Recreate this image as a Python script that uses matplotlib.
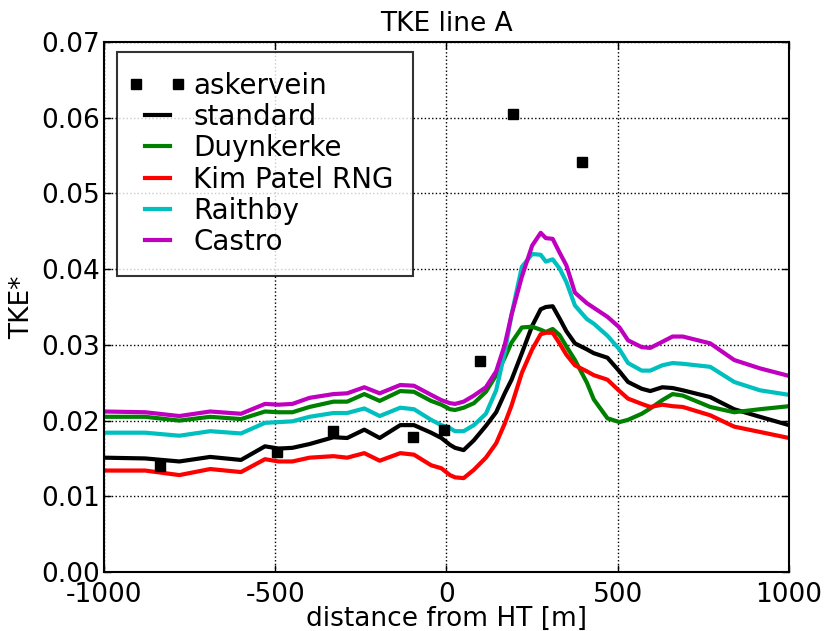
import matplotlib
matplotlib.use("Agg")
import matplotlib.pyplot as plt
from matplotlib.legend_handler import HandlerLine2D
import numpy as np

# distance from HT [m]
x = [-1000, -880, -780, -690, -600, -530, -490, -450, -400, -330, -290, -240,
     -195, -135, -95, -45, -15, 10, 25, 50, 80, 115, 145, 170, 190, 220, 250,
     275, 290, 310, 330, 350, 375, 410, 430, 470, 505, 530, 570, 595, 630,
     660, 690, 770, 840, 915, 1000]

standard = [0.0151, 0.0150, 0.0146, 0.0152, 0.0148, 0.0166, 0.0163, 0.0164,
            0.0169, 0.0178, 0.0177, 0.0188, 0.0177, 0.0194, 0.0194, 0.0184,
            0.0177, 0.0168, 0.0164, 0.0161, 0.0174, 0.0193, 0.0211, 0.0236,
            0.0254, 0.0289, 0.0325, 0.0347, 0.0350, 0.0351, 0.0335, 0.0318,
            0.0302, 0.0294, 0.0289, 0.0283, 0.0265, 0.0251, 0.0242, 0.0239,
            0.0244, 0.0243, 0.0240, 0.0231, 0.0215, 0.0205, 0.0194]

duynkerke = [0.0205, 0.0205, 0.0200, 0.0205, 0.0202, 0.0212, 0.0211, 0.0211,
             0.0218, 0.0225, 0.0225, 0.0235, 0.0226, 0.0239, 0.0238, 0.0226,
             0.0221, 0.0215, 0.0214, 0.0217, 0.0223, 0.0238, 0.0260, 0.0283,
             0.0303, 0.0323, 0.0324, 0.0320, 0.0317, 0.0321, 0.0313, 0.0298,
             0.0280, 0.0250, 0.0228, 0.0203, 0.0198, 0.0201, 0.0209, 0.0216,
             0.0227, 0.0235, 0.0233, 0.0218, 0.0211, 0.0215, 0.0219]

kim_patel = [0.0134, 0.0134, 0.0128, 0.0136, 0.0132, 0.0149, 0.0146, 0.0146,
             0.0151, 0.0153, 0.0151, 0.0157, 0.0147, 0.0157, 0.0155, 0.0141,
             0.0137, 0.0128, 0.0125, 0.0124, 0.0135, 0.0151, 0.0170, 0.0196,
             0.0220, 0.0263, 0.0294, 0.0314, 0.0316, 0.0316, 0.0302, 0.0287,
             0.0273, 0.0265, 0.0260, 0.0254, 0.0239, 0.0229, 0.0222, 0.0218,
             0.0221, 0.0219, 0.0218, 0.0207, 0.0192, 0.0185, 0.0177]

raithby = [0.0184, 0.0184, 0.0180, 0.0186, 0.0183, 0.0197, 0.0198, 0.0199,
           0.0205, 0.0210, 0.0210, 0.0216, 0.0206, 0.0217, 0.0215, 0.0201,
           0.0194, 0.0190, 0.0186, 0.0186, 0.0194, 0.0209, 0.0240, 0.0290,
           0.0340, 0.0403, 0.0420, 0.0419, 0.0410, 0.0413, 0.0401, 0.0383,
           0.0352, 0.0334, 0.0328, 0.0312, 0.0294, 0.0276, 0.0266, 0.0266,
           0.0273, 0.0276, 0.0275, 0.0271, 0.0251, 0.0240, 0.0234]

castro = [0.0212, 0.0211, 0.0206, 0.0212, 0.0209, 0.0222, 0.0221, 0.0222,
          0.0230, 0.0235, 0.0236, 0.0244, 0.0236, 0.0247, 0.0246, 0.0234,
          0.0227, 0.0223, 0.0222, 0.0225, 0.0233, 0.0244, 0.0265, 0.0300,
          0.0340, 0.0390, 0.0431, 0.0448, 0.0441, 0.0440, 0.0422, 0.0405,
          0.0369, 0.0355, 0.0349, 0.0337, 0.0323, 0.0306, 0.0297, 0.0296,
          0.0304, 0.0311, 0.0311, 0.0302, 0.0280, 0.0269, 0.0259]

# measurements
ask_x = [-836, -495, -331, -98, -7, 98, 194, 396]
ask_y = [0.0140, 0.0158, 0.0186, 0.0178, 0.0188, 0.0279, 0.0605, 0.0542]

fs = 19
plt.rcParams['font.family'] = 'DejaVu Sans'
plt.rcParams['font.size'] = fs
plt.rcParams['axes.unicode_minus'] = False

fig = plt.figure(figsize=(8.28, 6.31), dpi=100)
fig.patch.set_facecolor('white')
ax = fig.add_axes([0.1256, 0.0935, 0.8273, 0.8399])

ask, = ax.plot(ask_x, ask_y, 's', color='k', markersize=7.5, label='askervein', zorder=5)
ax.plot(x, standard, '-', color='k', lw=3, label='standard')
ax.plot(x, duynkerke, '-', color='green', lw=3, label='Duynkerke')
ax.plot(x, kim_patel, '-', color='red', lw=3, label='Kim Patel RNG')
ax.plot(x, raithby, '-', color='c', lw=3, label='Raithby')
ax.plot(x, castro, '-', color='m', lw=3, label='Castro')

ax.set_xlim(-1000, 1000)
ax.set_ylim(0, 0.07)
ax.set_xticks([-1000, -500, 0, 500, 1000])
ax.set_yticks(np.arange(0, 0.071, 0.01))
ax.set_yticklabels(['0.00', '0.01', '0.02', '0.03', '0.04', '0.05', '0.06', '0.07'])
ax.grid(True, color='k', linestyle=':', linewidth=1)
ax.tick_params(direction='in', top=True, right=True, length=5, width=1)
ax.tick_params(axis='x', pad=7)
ax.tick_params(axis='y', pad=3)
for s in ax.spines.values():
    s.set_linewidth(1.5)

ax.set_title('TKE line A', fontsize=fs, pad=8)
ax.set_xlabel('distance from HT [m]', fontsize=fs, labelpad=-1)
ax.set_ylabel('TKE*', fontsize=fs, labelpad=4)

leg = ax.legend(loc='upper left', bbox_to_anchor=(0.019, 0.981), borderaxespad=0,
                numpoints=2, fontsize=20, frameon=True, fancybox=False,
                borderpad=0.7, handlelength=1.5, handletextpad=0.55,
                labelspacing=0.12,
                handler_map={ask: HandlerLine2D(marker_pad=0, numpoints=2)})
leg.get_frame().set_edgecolor('k')
leg.get_frame().set_linewidth(1.5)

plt.savefig('out.png', dpi=100, facecolor='white')
